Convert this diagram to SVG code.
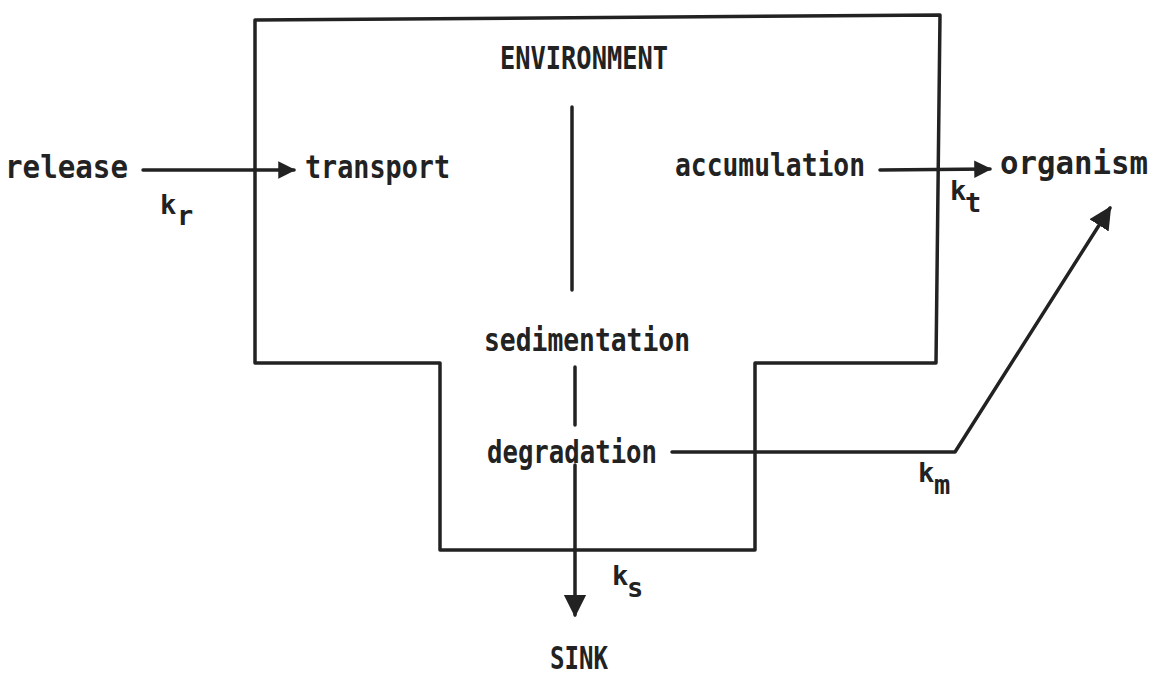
<svg xmlns="http://www.w3.org/2000/svg" width="1161" height="688" viewBox="0 0 1161 688">
  <style>
    .lbl { font-family: "DejaVu Sans Mono", "Liberation Mono", monospace; font-weight: bold; font-size: 32px; fill: #222; }
    .k { font-family: "DejaVu Sans Mono", "Liberation Mono", monospace; font-weight: bold; font-size: 27px; fill: #222; }
    .ln { stroke: #222; stroke-width: 3.5; fill: none; stroke-linecap: round; stroke-linejoin: round; }
  </style>
  <defs>
    <marker id="head" viewBox="0 0 10 10" refX="9" refY="5" markerWidth="6" markerHeight="5" markerUnits="strokeWidth" orient="auto">
      <path d="M0,0 L10,5 L0,10 Z" fill="#222"/>
    </marker>
    <marker id="headBig" viewBox="0 0 10 10" refX="9" refY="5" markerWidth="6.5" markerHeight="8.5" markerUnits="strokeWidth" orient="auto">
      <path d="M0,0 L10,5 L0,10 Z" fill="#222"/>
    </marker>
  </defs>

  <!-- environment outline (stepped compartment) -->
  <g id="environment">
    <path class="ln" d="M255,20 L940,15 L936,363 L755,363 L755,550 L440,550 L440,363 L255,363 Z"/>
    <text class="lbl" x="500" y="69" textLength="168" lengthAdjust="spacingAndGlyphs">ENVIRONMENT</text>
  </g>

  <g id="release"><text class="lbl" x="5" y="178" textLength="123" lengthAdjust="spacingAndGlyphs">release</text></g>
  <g id="transport"><text class="lbl" x="305" y="178" textLength="145" lengthAdjust="spacingAndGlyphs">transport</text></g>
  <g id="accumulation"><text class="lbl" x="675" y="176" textLength="190" lengthAdjust="spacingAndGlyphs">accumulation</text></g>
  <g id="organism"><text class="lbl" x="1000" y="174" textLength="148" lengthAdjust="spacingAndGlyphs">organism</text></g>
  <g id="sedimentation"><text class="lbl" x="484" y="351" textLength="206" lengthAdjust="spacingAndGlyphs">sedimentation</text></g>
  <g id="degradation"><text class="lbl" x="487" y="463" textLength="170" lengthAdjust="spacingAndGlyphs">degradation</text></g>
  <g id="sink"><text class="lbl" x="550" y="669" textLength="58" lengthAdjust="spacingAndGlyphs">SINK</text></g>

  <!-- connectors and rate constants -->
  <g id="connectors">
    <line class="ln" x1="572" y1="107" x2="572" y2="290"/>
    <line class="ln" x1="575" y1="367" x2="575" y2="425"/>
    <line class="ln" x1="143" y1="170" x2="294" y2="170" marker-end="url(#head)"/>
    <line class="ln" x1="880" y1="170" x2="990" y2="169" marker-end="url(#head)"/>
    <polyline class="ln" points="672,452 955,452 1110,208" marker-end="url(#headBig)"/>
    <line class="ln" x1="575" y1="465" x2="575" y2="615" marker-end="url(#headBig)"/>

    <text class="k" x="160" y="214">k</text><text class="k" x="177" y="225">r</text>
    <text class="k" x="950" y="200">k</text><text class="k" x="965" y="212">t</text>
    <text class="k" x="918" y="482">k</text><text class="k" x="934" y="494">m</text>
    <text class="k" x="612" y="585">k</text><text class="k" x="627" y="597">s</text>
  </g>
</svg>
